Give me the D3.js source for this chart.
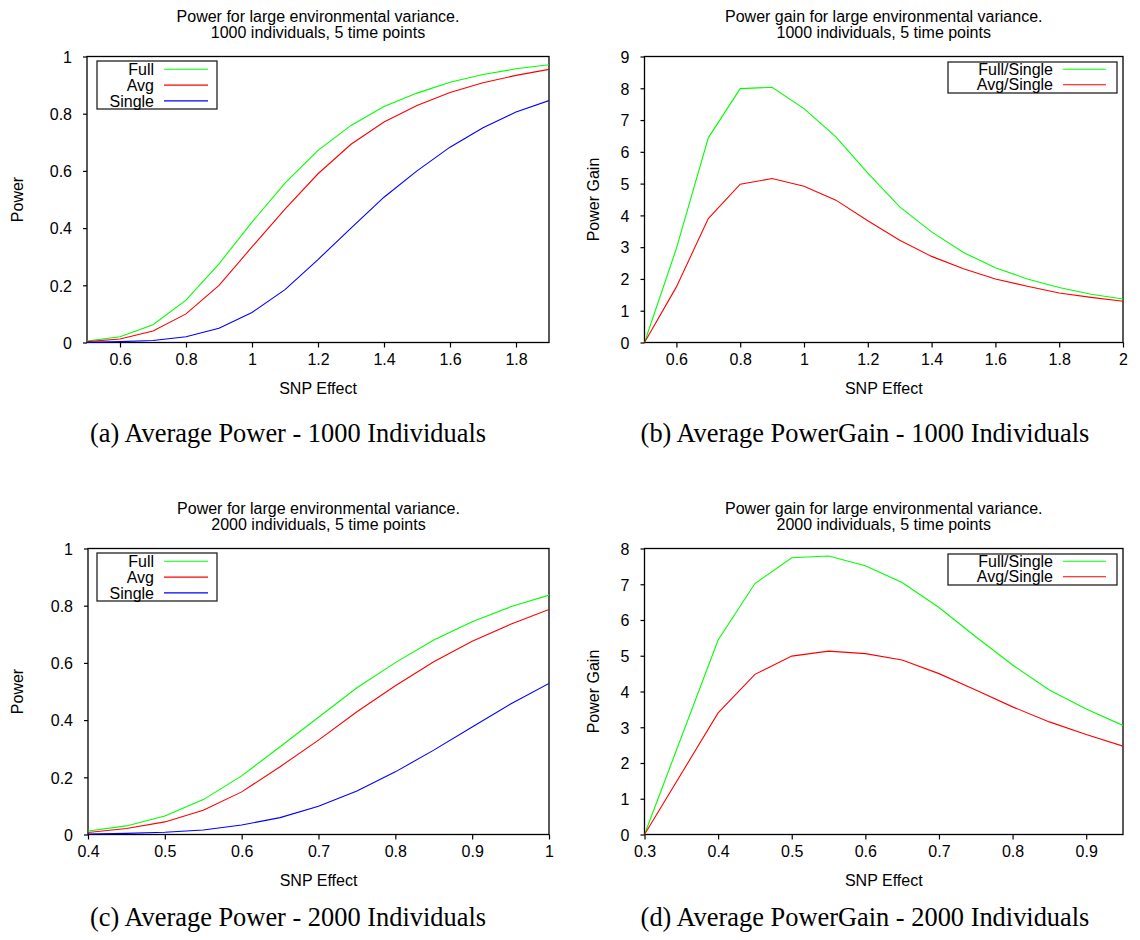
<!DOCTYPE html>
<html>
<head>
<meta charset="utf-8">
<script src="https://cdn.jsdelivr.net/npm/d3@7"></script>
<style>
  html, body { margin: 0; padding: 0; background: #fff; }
  svg { display: block; }
  text { font-family: "Liberation Sans", Arial, sans-serif; fill: #000; }
  .caption { font-family: "Liberation Serif", "Times New Roman", serif; }
</style>
</head>
<body>
<svg id="chart" width="1140" height="940"></svg>
<script>
// ---------- Data ----------
// Panel (a): 1000 individuals, power
const snpA = [0.5, 0.6, 0.7, 0.8, 0.9, 1.0, 1.1, 1.2, 1.3, 1.4, 1.5, 1.6, 1.7, 1.8, 1.9];
const fullA   = [0.005, 0.02, 0.062, 0.148, 0.275, 0.421, 0.557, 0.672, 0.759, 0.825, 0.872, 0.910, 0.937, 0.957, 0.971];
const avgA    = [0.003, 0.012, 0.040, 0.100, 0.200, 0.334, 0.466, 0.590, 0.693, 0.771, 0.829, 0.874, 0.908, 0.934, 0.955];
const singleA = [0.001, 0.003, 0.007, 0.020, 0.050, 0.105, 0.185, 0.290, 0.400, 0.508, 0.600, 0.683, 0.751, 0.806, 0.846];

// Panel (b): 1000 individuals, power gain
const snpB = [0.5, 0.6, 0.7, 0.8, 0.9, 1.0, 1.1, 1.2, 1.3, 1.4, 1.5, 1.6, 1.7, 1.8, 1.9, 2.0];
const fullSingleB = [0.0, 2.96, 6.44, 7.99, 8.03, 7.36, 6.47, 5.33, 4.27, 3.48, 2.83, 2.35, 2.00, 1.73, 1.52, 1.37];
const avgSingleB  = [0.0, 1.75, 3.90, 4.98, 5.16, 4.92, 4.48, 3.83, 3.22, 2.71, 2.32, 2.00, 1.77, 1.56, 1.42, 1.30];

// Panel (c): 2000 individuals, power
const snpC = [0.4, 0.45, 0.5, 0.55, 0.6, 0.65, 0.7, 0.75, 0.8, 0.85, 0.9, 0.95, 1.0];
const fullC   = [0.012, 0.030, 0.065, 0.122, 0.205, 0.307, 0.410, 0.513, 0.601, 0.680, 0.744, 0.796, 0.837];
const avgC    = [0.007, 0.021, 0.044, 0.085, 0.149, 0.237, 0.330, 0.429, 0.520, 0.604, 0.676, 0.735, 0.787];
const singleC = [0.002, 0.004, 0.008, 0.016, 0.033, 0.059, 0.099, 0.152, 0.219, 0.295, 0.376, 0.456, 0.528];

// Panel (d): 2000 individuals, power gain
const snpD = [0.3, 0.4, 0.45, 0.5, 0.55, 0.6, 0.65, 0.7, 0.75, 0.8, 0.85, 0.9, 0.95];
const fullSingleD = [0.0, 5.44, 7.02, 7.74, 7.79, 7.52, 7.05, 6.35, 5.53, 4.74, 4.04, 3.51, 3.05];
const avgSingleD  = [0.0, 3.40, 4.48, 4.99, 5.13, 5.06, 4.88, 4.50, 4.04, 3.57, 3.15, 2.80, 2.47];

// Tick values
const ticksAX = [0.6, 0.8, 1.0, 1.2, 1.4, 1.6, 1.8];
const ticksAY = [0, 0.2, 0.4, 0.6, 0.8, 1];
const ticksBX = [0.6, 0.8, 1.0, 1.2, 1.4, 1.6, 1.8, 2.0];
const ticksBY = [0, 1, 2, 3, 4, 5, 6, 7, 8, 9];
const ticksCX = [0.4, 0.5, 0.6, 0.7, 0.8, 0.9, 1.0];
const ticksCY = [0, 0.2, 0.4, 0.6, 0.8, 1];
const ticksDX = [0.3, 0.4, 0.5, 0.6, 0.7, 0.8, 0.9];
const ticksDY = [0, 1, 2, 3, 4, 5, 6, 7, 8];

// Text
const titlesA = ["Power for large environmental variance.", "1000 individuals, 5 time points"];
const titlesB = ["Power gain for large environmental variance.", "1000 individuals, 5 time points"];
const titlesC = ["Power for large environmental variance.", "2000 individuals, 5 time points"];
const titlesD = ["Power gain for large environmental variance.", "2000 individuals, 5 time points"];
const captions = [
  "(a) Average Power - 1000 Individuals",
  "(b) Average PowerGain - 1000 Individuals",
  "(c) Average Power - 2000 Individuals",
  "(d) Average PowerGain - 2000 Individuals"
];

const GREEN = "#00ff00", RED = "#ff0000", BLUE = "#0000ff";
const FS = 16;

const svg = d3.select("#chart");
const fmt = v => String(+v.toFixed(2));

function panel(cfg) {
  const g = svg.append("g");
  const x = d3.scaleLinear().domain(cfg.xDomain).range([cfg.L, cfg.R]);
  const y = d3.scaleLinear().domain(cfg.yDomain).range([cfg.B, cfg.T]);

  // title
  const cx = (cfg.L + cfg.R) / 2;
  cfg.titles.forEach((t, i) => {
    g.append("text").attr("x", cx).attr("y", cfg.T - 34.5 + i * 16)
      .attr("text-anchor", "middle").attr("font-size", FS).text(t);
  });

  // axes
  const xa = g.append("g").attr("transform", `translate(0,${cfg.B})`)
    .call(d3.axisBottom(x).tickValues(cfg.xTicks).tickFormat(fmt).tickSizeInner(5).tickSizeOuter(0).tickPadding(6));
  const ya = g.append("g").attr("transform", `translate(${cfg.L},0)`)
    .call(d3.axisLeft(y).tickValues(cfg.yTicks).tickFormat(fmt).tickSizeInner(4).tickSizeOuter(0).tickPadding(11));
  [xa, ya].forEach(a => {
    a.selectAll("text").attr("font-size", FS).attr("font-family", '"Liberation Sans", Arial, sans-serif').attr("fill", "#000");
    a.selectAll("line").attr("stroke", "#000").attr("stroke-width", 1.2);
    a.select(".domain").remove();
  });
  ya.selectAll("text").attr("dy", "0.36em");

  // frame
  g.append("rect").attr("x", cfg.L).attr("y", cfg.T)
    .attr("width", cfg.R - cfg.L).attr("height", cfg.B - cfg.T)
    .attr("fill", "none").attr("stroke", "#000").attr("stroke-width", 1.3);

  // axis labels
  g.append("text").attr("x", cx).attr("y", cfg.B + 51)
    .attr("text-anchor", "middle").attr("font-size", FS).text("SNP Effect");
  g.append("text").attr("transform", `translate(${cfg.yLabelX},${(cfg.T + cfg.B) / 2}) rotate(-90)`)
    .attr("text-anchor", "middle").attr("font-size", FS).text(cfg.yLabel);

  // clip
  const clipId = "clip" + cfg.id;
  svg.append("clipPath").attr("id", clipId).append("rect")
    .attr("x", cfg.L).attr("y", cfg.T - 1).attr("width", cfg.R - cfg.L).attr("height", cfg.B - cfg.T + 2);

  const line = d3.line().x(d => x(d[0])).y(d => y(d[1]));
  cfg.series.forEach(s => {
    g.append("path").attr("clip-path", `url(#${clipId})`)
      .datum(cfg.xs.map((v, i) => [v, s.values[i]]))
      .attr("d", line).attr("fill", "none").attr("stroke", s.color).attr("stroke-width", 1.1);
  });

  // legend
  const lg = cfg.legend;
  g.append("rect").attr("x", lg.x0).attr("y", lg.y0).attr("width", lg.x1 - lg.x0).attr("height", lg.y1 - lg.y0)
    .attr("fill", "#fff").attr("stroke", "#222").attr("stroke-width", 1.3);
  cfg.series.forEach((s, i) => {
    const ry = lg.rowY + i * lg.rowH;
    g.append("text").attr("x", lg.textX).attr("y", ry + 5.6).attr("text-anchor", "end")
      .attr("font-size", FS).text(s.name);
    g.append("line").attr("x1", lg.lx0).attr("x2", lg.lx1).attr("y1", ry).attr("y2", ry)
      .attr("stroke", s.color).attr("stroke-width", 1.1);
  });

  // caption
  svg.append("text").attr("class", "caption").attr("x", cfg.capX).attr("y", cfg.capY)
    .attr("text-anchor", "middle").attr("font-size", 26.4).text(cfg.caption);
}

const dyC = 492;

panel({
  id: "a", L: 87, R: 549, T: 56.5, B: 342.5,
  xDomain: [0.5, 1.9], yDomain: [0, 1], xTicks: ticksAX, yTicks: ticksAY,
  titles: titlesA, yLabel: "Power", yLabelX: 23,
  xs: snpA,
  series: [{name: "Full", values: fullA, color: GREEN}, {name: "Avg", values: avgA, color: RED}, {name: "Single", values: singleA, color: BLUE}],
  legend: {x0: 97, x1: 217, y0: 61, y1: 109, textX: 154, lx0: 164, lx1: 208, rowY: 69.3, rowH: 15.8},
  caption: captions[0], capX: 288, capY: 442
});

panel({
  id: "b", L: 644.5, R: 1123, T: 56.5, B: 342.5,
  xDomain: [0.5, 2.0], yDomain: [0, 9], xTicks: ticksBX, yTicks: ticksBY,
  titles: titlesB, yLabel: "Power Gain", yLabelX: 599,
  xs: snpB,
  series: [{name: "Full/Single", values: fullSingleB, color: GREEN}, {name: "Avg/Single", values: avgSingleB, color: RED}],
  legend: {x0: 948, x1: 1117, y0: 62, y1: 93, textX: 1053, lx0: 1063, lx1: 1106, rowY: 69.2, rowH: 15.6},
  caption: captions[1], capX: 865, capY: 442
});

panel({
  id: "c", L: 88, R: 549, T: 56.5 + dyC, B: 342.5 + dyC,
  xDomain: [0.4, 1.0], yDomain: [0, 1], xTicks: ticksCX, yTicks: ticksCY,
  titles: titlesC, yLabel: "Power", yLabelX: 23,
  xs: snpC,
  series: [{name: "Full", values: fullC, color: GREEN}, {name: "Avg", values: avgC, color: RED}, {name: "Single", values: singleC, color: BLUE}],
  legend: {x0: 97, x1: 217, y0: 61 + dyC, y1: 109 + dyC, textX: 154, lx0: 164, lx1: 208, rowY: 69.3 + dyC, rowH: 15.8},
  caption: captions[2], capX: 288, capY: 926
});

panel({
  id: "d", L: 644.5, R: 1123, T: 56.5 + dyC, B: 342.5 + dyC,
  xDomain: [0.3, 0.95], yDomain: [0, 8], xTicks: ticksDX, yTicks: ticksDY,
  titles: titlesD, yLabel: "Power Gain", yLabelX: 599,
  xs: snpD,
  series: [{name: "Full/Single", values: fullSingleD, color: GREEN}, {name: "Avg/Single", values: avgSingleD, color: RED}],
  legend: {x0: 948, x1: 1117, y0: 62 + dyC, y1: 93 + dyC, textX: 1053, lx0: 1063, lx1: 1106, rowY: 69.2 + dyC, rowH: 15.6},
  caption: captions[3], capX: 865, capY: 926
});
</script>
</body>
</html>
